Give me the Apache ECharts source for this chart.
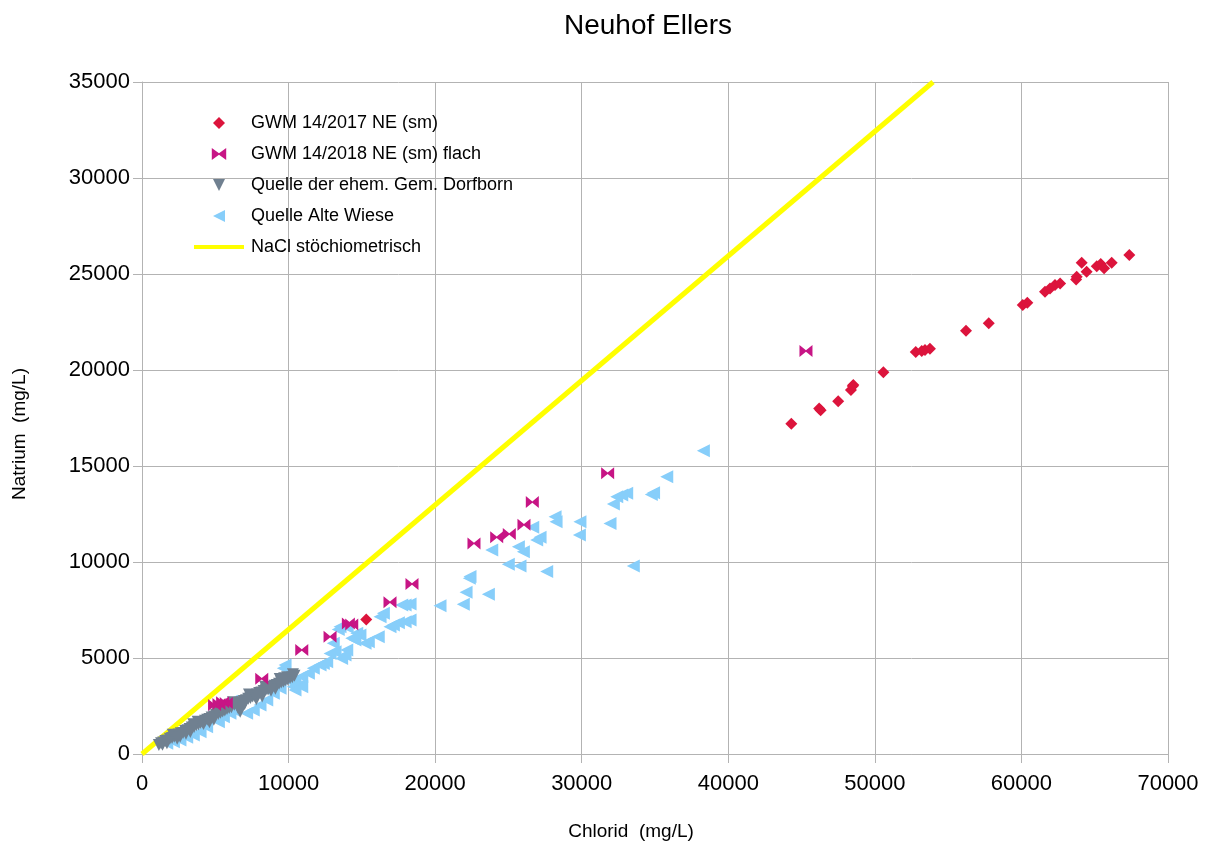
<!DOCTYPE html>
<html>
<head>
<meta charset="utf-8">
<title>Neuhof Ellers</title>
<script src="https://cdn.jsdelivr.net/npm/echarts@6/dist/echarts.min.js"></script>
<style>
  html, body { margin: 0; padding: 0; background: #fff; }
  #chart { width: 1206px; height: 843px; }
</style>
</head>
<body>
<div id="chart"></div>
<script>
// Chlorid / Natrium pairs in mg/L, one array per sampling point
const gwm2017 = [
  [15300, 7000], [44300, 17200], [46200, 18000], [46300, 17900], [47500, 18370],
  [48370, 18960], [48490, 19170], [48530, 19220], [50580, 19880], [52790, 20940],
  [53200, 20990], [53420, 21040], [53760, 21110], [56220, 22050], [57770, 22430],
  [60090, 23380], [60400, 23500], [61610, 24080], [61950, 24250], [62290, 24430],
  [62640, 24510], [63730, 24720], [63770, 24860], [64110, 25590], [64450, 25120],
  [65140, 25410], [65410, 25520], [65640, 25300], [66160, 25590], [67360, 25990]
];

const gwm2018 = [
  [45300, 20990], [31770, 14620], [26630, 13120], [26060, 11940], [25060, 11460],
  [24200, 11290], [22650, 10970], [18420, 8850], [16920, 7900], [14080, 6800],
  [14310, 6750], [12830, 6110], [10900, 5420], [8170, 3920], [4950, 2550],
  [5250, 2600], [5500, 2700], [5750, 2650]
];

const dorfborn = [
  [1150, 470], [1300, 560], [1400, 480], [1450, 600], [1600, 680], [1750, 700],
  [1900, 800], [2050, 830], [2100, 1000], [2200, 900], [2350, 940], [2500, 1010],
  [2600, 900], [2650, 1080], [2800, 1100], [2950, 1200], [3000, 1050], [3100, 1240],
  [3250, 1300], [3400, 1380], [3550, 1400], [3700, 1500], [3800, 1680], [3850, 1540],
  [4000, 1620], [4150, 1640], [4200, 1560], [4300, 1730], [4450, 1790], [4600, 1820],
  [4600, 1650], [4750, 1900], [4900, 1950], [5050, 2040], [5200, 2080], [5300, 2300],
  [5350, 2150], [5500, 2220], [5600, 2400], [5650, 2260], [5800, 2350], [5950, 2400],
  [6100, 2440], [6300, 2560], [6450, 2600], [6700, 2200], [6800, 2700], [6950, 2760],
  [7000, 2600], [7100, 2800], [7250, 2880], [7300, 3100], [7400, 2920], [7550, 3000],
  [7700, 3020], [7850, 3100], [8000, 3180], [8150, 3200], [8200, 3000], [8300, 3280],
  [8400, 3500], [8450, 3340], [8600, 3360], [8750, 3450], [8900, 3480], [9050, 3560],
  [9100, 3400], [9200, 3600], [9350, 3660], [9500, 3720], [9650, 3760], [9700, 3950],
  [9800, 3840], [9900, 4000], [9950, 3880], [10100, 3960], [10250, 4000], [10400, 4080],
  [1700, 560], [2400, 800], [3300, 1150], [3500, 1550], [4900, 1780], [5100, 2250],
  [6200, 2700], [7800, 2850], [8800, 3300], [9400, 3900], [10300, 4150], [6550, 2400]
];

const alteWiese = [
  [38300, 15800], [35800, 14440], [34900, 13610], [34750, 13520], [33070, 13580],
  [32730, 13490], [32390, 13400], [32160, 13020], [31930, 12010], [33520, 9790],
  [29880, 12100], [29840, 11410], [28180, 12360], [28250, 12100], [27160, 11290],
  [26930, 11150], [26660, 11810], [26020, 10540], [25680, 10800], [23860, 10620],
  [25790, 9790], [24990, 9880], [27610, 9500], [22380, 9240], [22330, 9150],
  [23630, 8320], [22110, 8420], [21920, 7800], [20330, 7720],
  [18290, 7810], [17950, 7760], [17720, 7760], [18290, 6980], [17950, 6890],
  [17490, 6840], [17150, 6720], [16920, 6630], [16240, 7150], [16470, 7330],
  [16120, 6110], [15440, 5850], [15220, 5770], [14870, 6200], [14650, 6290],
  [14530, 5940], [14310, 6030], [14000, 6600], [13970, 5420], [13850, 5160],
  [13620, 4980], [13510, 6630], [13390, 6490], [13170, 5330], [12830, 5240],
  [13050, 5770], [12600, 4810], [12370, 4720], [12150, 4640], [11690, 4460],
  [11350, 4200], [10900, 4030], [10440, 3850], [10100, 3770], [9760, 4640],
  [9640, 4460], [10780, 3590], [10900, 3500], [10320, 3500], [10440, 3330],
  [9420, 3420], [8960, 3160], [8510, 2810], [8050, 2550], [7590, 2290],
  [7140, 2120], [6230, 2290], [6100, 2750], [6000, 2120], [5550, 1940],
  [5210, 1680], [4410, 1420], [3960, 1160], [3500, 990], [3050, 870],
  [2590, 730], [2140, 640], [1690, 560]
];

// stoichiometric Na/Cl ratio of halite, drawn through the origin
const naclLine = [[0, 0], [53970, 35000]];

const seriesNames = [
  'GWM 14/2017 NE (sm)',
  'GWM 14/2018 NE (sm) flach',
  'Quelle der ehem. Gem. Dorfborn',
  'Quelle Alte Wiese',
  'NaCl stöchiometrisch'
];

const xTicks = { min: 0, max: 70000, interval: 10000 };
const yTicks = { min: 0, max: 35000, interval: 5000 };

const FONT = '"Liberation Sans", Arial, sans-serif';
const GRID_COLOR = '#b3b3b3';

const diamond = 'path://M5,0L10,5L5,10L0,5Z';
const bowtie = 'path://M0,0L6,4.4L6,5.6L0,10Z M12,0L6,4.4L6,5.6L12,10Z';
const downTriangle = 'path://M0,0L10,0L5,10Z';
const leftTriangle = 'path://M0,5L10,0L10,10Z';
const legendBar = 'path://M0,0L50,0L50,4L0,4Z';

const chart = echarts.init(document.getElementById('chart'), null, { renderer: 'canvas' });

chart.setOption({
  backgroundColor: '#ffffff',
  animation: false,
  textStyle: { fontFamily: FONT },
  grid: { left: 142, right: 38, top: 82, bottom: 89, containLabel: false },
  legend: {
    orient: 'vertical',
    left: 194,
    top: 113,
    padding: 0,
    itemWidth: 50,
    itemHeight: 12,
    itemGap: 11,
    data: [
      { name: seriesNames[0], icon: diamond },
      { name: seriesNames[1], icon: bowtie },
      { name: seriesNames[2], icon: downTriangle },
      { name: seriesNames[3], icon: leftTriangle },
      { name: seriesNames[4], icon: legendBar }
    ],
    textStyle: { fontFamily: FONT, fontSize: 18, color: '#000', lineHeight: 20, padding: [0, 0, 0, 2] }
  },
  xAxis: {
    type: 'value',
    min: xTicks.min,
    max: xTicks.max,
    interval: xTicks.interval,
    axisLine: { show: true, lineStyle: { color: GRID_COLOR, width: 1 } },
    axisTick: { show: true, length: 9, lineStyle: { color: GRID_COLOR } },
    splitLine: { show: true, lineStyle: { color: GRID_COLOR, width: 1 } },
    axisLabel: { fontFamily: FONT, fontSize: 22, color: '#000', margin: 19, formatter: v => String(v) }
  },
  yAxis: {
    type: 'value',
    min: yTicks.min,
    max: yTicks.max,
    interval: yTicks.interval,
    axisLine: { show: true, lineStyle: { color: GRID_COLOR, width: 1 } },
    axisTick: { show: true, length: 9, lineStyle: { color: GRID_COLOR } },
    splitLine: { show: true, lineStyle: { color: GRID_COLOR, width: 1 } },
    axisLabel: { fontFamily: FONT, fontSize: 22, color: '#000', margin: 12, formatter: v => String(v) }
  },
  graphic: [
    {
      type: 'text', x: 648, y: 26,
      style: { text: 'Neuhof Ellers', font: '28px ' + FONT, fill: '#000', align: 'center', verticalAlign: 'middle' }
    },
    {
      type: 'text', x: 631, y: 832,
      style: { text: 'Chlorid  (mg/L)', font: '19px ' + FONT, fill: '#000', align: 'center', verticalAlign: 'middle' }
    },
    {
      type: 'text', x: 20, y: 434, rotation: Math.PI / 2,
      style: { text: 'Natrium  (mg/L)', font: '19px ' + FONT, fill: '#000', align: 'center', verticalAlign: 'middle' }
    }
  ],
  series: [
    {
      name: seriesNames[4],
      type: 'line',
      data: naclLine,
      symbol: 'none',
      clip: true,
      lineStyle: { color: '#ffff00', width: 5 },
      itemStyle: { color: '#ffff00' },
      z: 1
    },
    {
      name: seriesNames[3],
      type: 'scatter',
      data: alteWiese,
      symbol: leftTriangle,
      symbolSize: [13, 13],
      itemStyle: { color: '#87cefa', opacity: 1 },
      z: 2
    },
    {
      name: seriesNames[2],
      type: 'scatter',
      data: dorfborn,
      symbol: downTriangle,
      symbolSize: [12, 12],
      itemStyle: { color: '#708090', opacity: 1 },
      z: 3
    },
    {
      name: seriesNames[1],
      type: 'scatter',
      data: gwm2018,
      symbol: bowtie,
      symbolSize: [13, 12],
      itemStyle: { color: '#c71585', opacity: 1 },
      z: 4
    },
    {
      name: seriesNames[0],
      type: 'scatter',
      data: gwm2017,
      symbol: diamond,
      symbolSize: [12, 12],
      itemStyle: { color: '#dc143c', opacity: 1 },
      z: 5
    }
  ]
});
</script>
</body>
</html>
